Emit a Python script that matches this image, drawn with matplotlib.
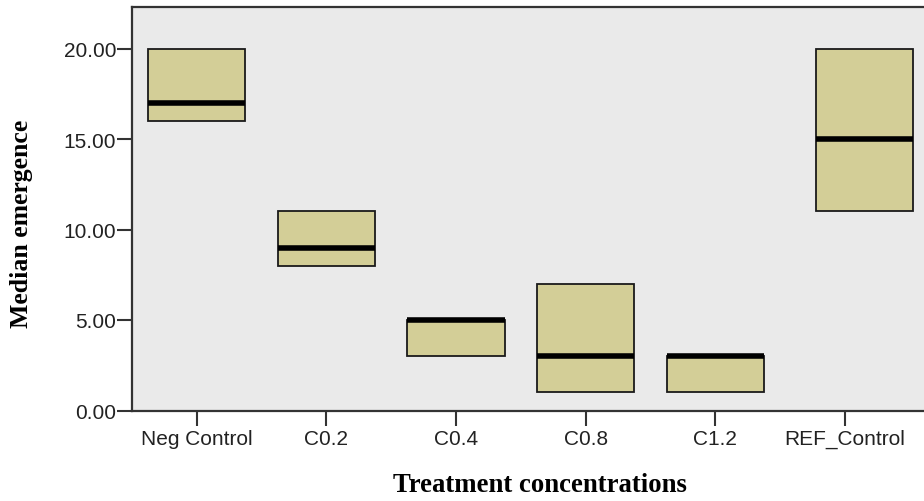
import matplotlib
matplotlib.use("Agg")
import matplotlib.pyplot as plt

# Median emergence per treatment: box spans (low, high) with the median line
categories = ["Neg Control", "C0.2", "C0.4", "C0.8", "C1.2", "REF_Control"]
box_low = [16, 8, 3, 1, 1, 11]
box_high = [20, 11, 5, 7, 3, 20]
medians = [17, 9, 5, 3, 3, 15]
y_ticks = [0, 5, 10, 15, 20]

W, H = 924, 502
fig = plt.figure(figsize=(W / 100, H / 100), dpi=100)
fig.patch.set_facecolor("white")

# axes frame in pixel terms; right spine runs just past the figure edge
left_px, right_px, top_px, bottom_px = 132, 930, 7.5, 411.5
ax = fig.add_axes([left_px / W, (H - bottom_px) / H,
                   (right_px - left_px) / W, (bottom_px - top_px) / H])
ax.set_facecolor("#EAEAEA")

stats = []
for lab, lo, hi, med in zip(categories, box_low, box_high, medians):
    stats.append(dict(label=lab, q1=lo, q3=hi, med=med, whislo=lo, whishi=hi, fliers=[]))

positions = list(range(len(categories)))
positions[-1] += 0.15  # last box sits slightly right of its tick

ax.bxp(stats, positions=positions, widths=0.75, patch_artist=True,
       showcaps=False, manage_ticks=False,
       boxprops=dict(facecolor="#D3CE97", edgecolor="#1a1a1a", linewidth=1.3),
       medianprops=dict(color="black", linewidth=4.0, solid_capstyle="butt"),
       whiskerprops=dict(linewidth=0))

ax.set_xlim(-0.5, -0.5 + (right_px - left_px) / 129.6)
ax.set_ylim(0, 20 * (bottom_px - top_px) / (bottom_px - 49.5))

ax.set_xticks(range(len(categories)))
ax.set_xticklabels(categories)
ax.set_yticks(y_ticks)
ax.set_yticklabels([f"{v:.2f}" for v in y_ticks])

for sp in ax.spines.values():
    sp.set_color("#333333")
    sp.set_linewidth(1.6)

ax.tick_params(axis="both", direction="out", length=10.5, width=1.5, color="#333333",
               labelcolor="#222222", labelsize=15)
ax.tick_params(axis="y", pad=1)
ax.tick_params(axis="x", pad=3)
for t in ax.get_xticklabels() + ax.get_yticklabels():
    t.set_family("Liberation Sans")

fig.text(22 / W, 1 - 224 / H, "Median emergence", rotation=90, ha="center", va="center",
         family="Liberation Serif", fontweight="bold", fontsize=18.5)
fig.text(540 / W, 1 - 486 / H, "Treatment concentrations", ha="center", va="center",
         family="Liberation Serif", fontweight="bold", fontsize=19.3)

fig.savefig("out.png", dpi=100)
